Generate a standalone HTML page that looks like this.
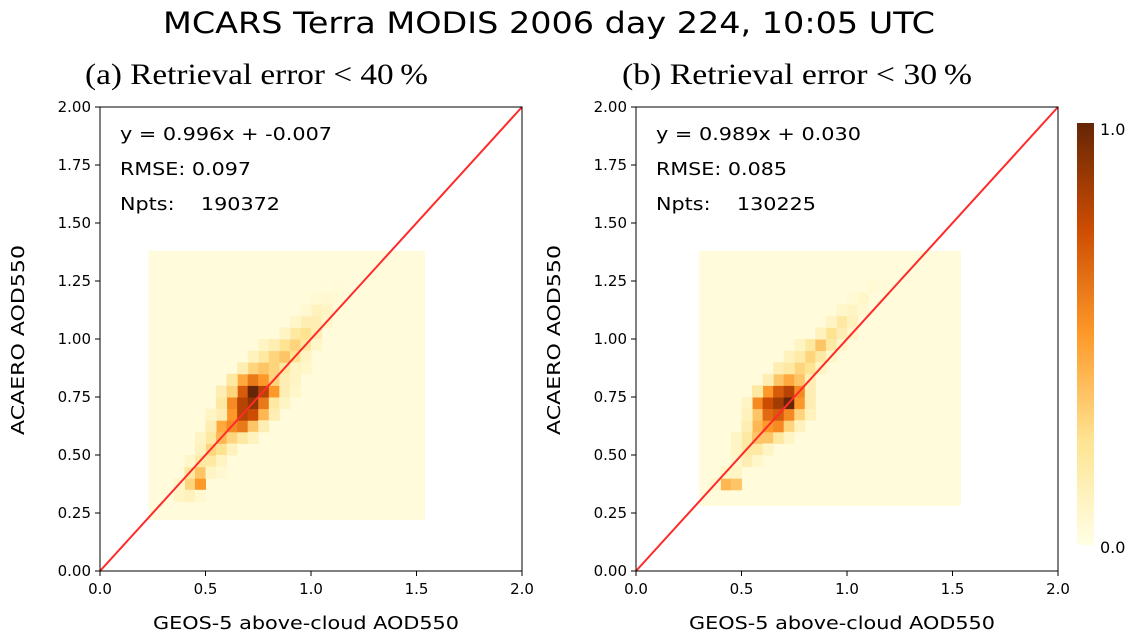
<!DOCTYPE html>
<html><head><meta charset="utf-8"><style>
body{margin:0;background:#fff;width:1142px;height:640px;overflow:hidden}
svg{display:block}
</style></head><body>
<svg id="fig" width="1142" height="640" xmlns="http://www.w3.org/2000/svg">
<defs><linearGradient id="cb" x1="0" y1="1" x2="0" y2="0">
<stop offset="0" stop-color="#ffffe5"/><stop offset="0.25" stop-color="#fee391"/><stop offset="0.5" stop-color="#fe9929"/><stop offset="0.75" stop-color="#cc4c02"/><stop offset="1" stop-color="#662506"/></linearGradient></defs>
<text x="163" y="33" font-family="DejaVu Sans, Liberation Sans, sans-serif" font-size="29" textLength="772" lengthAdjust="spacingAndGlyphs">MCARS Terra MODIS 2006 day 224, 10:05 UTC</text>
<rect x="1077" y="123" width="17" height="422" fill="url(#cb)"/>
<text x="1100" y="135" font-family="DejaVu Sans, sans-serif" font-size="16">1.0</text>
<text x="1100" y="553" font-family="DejaVu Sans, sans-serif" font-size="16">0.0</text>
</svg>
<script>
const xTicks=[0.0,0.5,1.0,1.5,2.0];
const yTicks=[0.00,0.25,0.50,0.75,1.00,1.25,1.50,1.75,2.00];
const binSize=0.05;
// cells: [x-left, y-bottom, normalized density]
const cellsA=[
[0.40,0.35,0.3],[0.45,0.35,0.5],[0.40,0.40,0.2],[0.45,0.40,0.35],[0.45,0.45,0.2],[0.50,0.45,0.2],
[0.50,0.50,0.3],[0.55,0.50,0.25],[0.50,0.55,0.2],[0.55,0.55,0.4],[0.60,0.55,0.3],[0.65,0.55,0.2],
[0.55,0.60,0.45],[0.60,0.60,0.55],[0.65,0.60,0.6],[0.70,0.60,0.35],
[0.60,0.65,0.5],[0.65,0.65,0.8],[0.70,0.65,0.75],[0.75,0.65,0.4],
[0.60,0.70,0.55],[0.65,0.70,0.8],[0.70,0.70,0.9],[0.75,0.70,0.6],[0.80,0.70,0.2],
[0.65,0.75,0.7],[0.70,0.75,1.0],[0.75,0.75,0.8],[0.80,0.75,0.5],
[0.65,0.80,0.45],[0.70,0.80,0.6],[0.75,0.80,0.5],[0.80,0.80,0.3],
[0.70,0.85,0.3],[0.75,0.85,0.35],[0.80,0.85,0.3],[0.85,0.85,0.2],
[0.75,0.90,0.2],[0.80,0.90,0.3],[0.85,0.90,0.35],[0.90,0.90,0.25],
[0.85,0.95,0.25],[0.90,0.95,0.3],[0.95,0.95,0.2],
[0.90,1.00,0.2],[0.95,1.00,0.25],[1.00,1.00,0.15],[0.95,1.05,0.15],[1.00,1.05,0.15],
[1.00,1.10,0.12],[1.05,1.10,0.1],[1.05,1.15,0.06],[0.35,0.30,0.1],[0.40,0.30,0.12],
[0.85,0.75,0.15],[0.85,0.80,0.15],[0.55,0.65,0.15],[0.90,0.85,0.1],
[0.35,0.35,0.08],[0.50,0.40,0.1],[0.40,0.45,0.08],[0.55,0.45,0.1],[0.45,0.50,0.12],[0.60,0.50,0.12],
[0.45,0.55,0.1],[0.70,0.55,0.12],[0.50,0.60,0.15],[0.75,0.60,0.15],[0.50,0.65,0.1],[0.80,0.65,0.15],
[0.55,0.70,0.2],[0.85,0.70,0.1],[0.55,0.75,0.15],[0.90,0.75,0.08],[0.60,0.75,0.3],[0.60,0.80,0.2],
[0.90,0.80,0.1],[0.65,0.85,0.15],[0.95,0.85,0.08],[0.70,0.90,0.12],[0.95,0.90,0.1],[0.75,0.95,0.1],
[0.80,0.95,0.15],[1.00,0.95,0.08],[0.85,1.00,0.1],[0.90,1.05,0.08],[1.05,1.05,0.08],[0.95,1.10,0.06],
[1.10,1.15,0.05],[1.00,1.15,0.05],[1.10,1.20,0.04],[0.55,0.40,0.06],[0.45,0.30,0.06]];
const cellsB=[
[0.40,0.35,0.4],[0.45,0.35,0.35],[0.45,0.40,0.1],[0.50,0.45,0.15],[0.50,0.50,0.2],[0.55,0.50,0.2],
[0.50,0.55,0.2],[0.55,0.55,0.35],[0.60,0.55,0.35],[0.65,0.55,0.2],
[0.55,0.60,0.4],[0.60,0.60,0.5],[0.65,0.60,0.55],[0.70,0.60,0.3],
[0.55,0.65,0.35],[0.60,0.65,0.65],[0.65,0.65,0.7],[0.70,0.65,0.55],[0.75,0.65,0.3],
[0.55,0.70,0.55],[0.60,0.70,0.75],[0.65,0.70,0.85],[0.70,0.70,1.0],[0.75,0.70,0.5],
[0.60,0.75,0.5],[0.65,0.75,0.7],[0.70,0.75,0.8],[0.75,0.75,0.55],
[0.65,0.80,0.35],[0.70,0.80,0.45],[0.75,0.80,0.35],
[0.75,0.85,0.3],[0.80,0.85,0.25],[0.80,0.90,0.3],[0.85,0.90,0.2],
[0.80,0.95,0.2],[0.85,0.95,0.35],[0.90,0.95,0.2],[0.90,1.00,0.25],[0.95,1.00,0.15],
[0.95,1.05,0.2],[1.00,1.05,0.12],[1.00,1.10,0.1],[1.05,1.15,0.08],[1.10,1.20,0.05],
[0.40,0.40,0.08],[0.45,0.45,0.08],[0.55,0.45,0.08],[0.45,0.50,0.1],[0.60,0.50,0.1],[0.45,0.55,0.1],
[0.70,0.55,0.1],[0.50,0.60,0.15],[0.75,0.60,0.12],[0.50,0.65,0.12],[0.80,0.65,0.12],[0.50,0.70,0.1],
[0.80,0.70,0.15],[0.55,0.75,0.2],[0.80,0.75,0.15],[0.60,0.80,0.15],[0.80,0.80,0.15],[0.65,0.85,0.15],
[0.70,0.85,0.2],[0.85,0.85,0.1],[0.70,0.90,0.12],[0.75,0.90,0.18],[0.90,0.90,0.08],[0.75,0.95,0.1],
[0.95,0.95,0.08],[0.85,1.00,0.12],[1.00,1.00,0.08],[0.90,1.05,0.1],[0.95,1.10,0.08],[1.05,1.10,0.06],
[1.00,1.15,0.05],[1.15,1.20,0.04],[0.35,0.35,0.06]];
const panels=[
{id:'a',x0:100,tx:85,tw:343,title:'(a) Retrieval error < 40\u2009%',stats:['y = 0.996x + -0.007','RMSE: 0.097','Npts:    190372'],statW:[212,131,160],bg:[0.23,1.54,0.22,1.38],cells:cellsA},
{id:'b',x0:636,tx:622,tw:350,title:'(b) Retrieval error < 30\u2009%',stats:['y = 0.989x + 0.030','RMSE: 0.085','Npts:    130225'],statW:[205,131,160],bg:[0.30,1.54,0.28,1.38],cells:cellsB}];
const W=422,T=107,B=571;
const stops=[[0,[255,255,229]],[0.25,[254,227,145]],[0.5,[254,153,41]],[0.75,[204,76,2]],[1,[102,37,6]]];
function cmap(v){for(let i=1;i<stops.length;i++){if(v<=stops[i][0]){const a=stops[i-1],b=stops[i],t=(v-a[0])/(b[0]-a[0]);return 'rgb('+a[1].map((c,k)=>Math.round(c+(b[1][k]-c)*t)).join(',')+')';}}return 'rgb(102,37,6)';}
const svg=document.getElementById('fig');const NS='http://www.w3.org/2000/svg';
function mk(tag,attrs,txt){const e=document.createElementNS(NS,tag);for(const k in attrs)e.setAttribute(k,attrs[k]);if(txt!==undefined)e.textContent=txt;svg.appendChild(e);return e;}
const F='DejaVu Sans, Liberation Sans, sans-serif';
panels.forEach(p=>{
 const sx=v=>p.x0+v/2*W, sy=v=>B-v/2*(B-T);
 const bg=mk('rect',{x:sx(p.bg[0]),y:sy(p.bg[3]),width:sx(p.bg[1])-sx(p.bg[0]),height:sy(p.bg[2])-sy(p.bg[3]),fill:'#fffbdb'});
 
 
 p.cells.forEach(c=>{
  const r=mk('rect',{x:sx(c[0]),y:sy(c[1]+binSize),width:sx(c[0]+binSize)-sx(c[0])+0.5,height:sy(c[1])-sy(c[1]+binSize)+0.5,fill:cmap(c[2])});
  
  
 });
 const ln=mk('line',{x1:sx(0),y1:sy(0),x2:sx(2),y2:sy(2),stroke:'#ff2a2a','stroke-width':2});
 
 
 const fr=mk('rect',{x:p.x0,y:T,width:W,height:B-T,fill:'none',stroke:'#000','stroke-width':1});
 
 
 xTicks.forEach(t=>{mk('line',{x1:sx(t),x2:sx(t),y1:B,y2:B+5,stroke:'#000'});
  const tx=mk('text',{x:sx(t),y:B+23,'text-anchor':'middle','font-family':F,'font-size':15},t.toFixed(1));
  
  });
 yTicks.forEach(t=>{mk('line',{x1:p.x0-5,x2:p.x0,y1:sy(t),y2:sy(t),stroke:'#000'});
  const tx=mk('text',{x:p.x0-9,y:sy(t)+5,'text-anchor':'end','font-family':F,'font-size':15},t.toFixed(2));
  
  });
 const xl=mk('text',{x:p.x0+53,y:629,'font-family':F,'font-size':18,textLength:306,lengthAdjust:'spacingAndGlyphs'},'GEOS-5 above-cloud AOD550');
 
 
 const yl=mk('text',{x:0,y:0,'font-family':F,'font-size':18,textLength:190,lengthAdjust:'spacingAndGlyphs',transform:'translate('+(p.x0-76)+',435) rotate(-90)'},'ACAERO AOD550');
 
 
 const st=mk('text',{x:p.tx,y:84,'font-family':'Liberation Serif, serif','font-size':30,textLength:p.tw,lengthAdjust:'spacingAndGlyphs'},p.title);
 
 
 p.stats.forEach((s,i)=>{const t=mk('text',{x:p.x0+20,y:140+i*35,'font-family':F,'font-size':18,textLength:p.statW[i],lengthAdjust:'spacingAndGlyphs'},s);
  t.setAttribute('style','white-space:pre');
  
  });
});
</script>
</body></html>
